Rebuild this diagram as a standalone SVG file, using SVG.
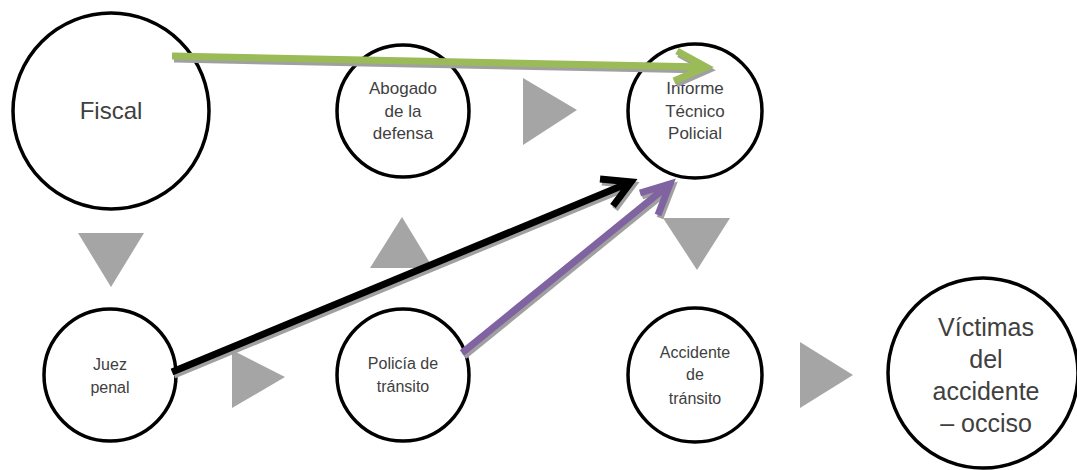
<svg xmlns="http://www.w3.org/2000/svg" width="1077" height="470" viewBox="0 0 1077 470">
<style>
.node circle{fill:#fff;stroke:#000;stroke-width:3.5}
.node text{font-family:"Liberation Sans",Arial,sans-serif;fill:#404040;text-anchor:middle}
.tri{fill:#a5a5a5}
.ln{fill:none;stroke-width:7;stroke-linecap:butt;stroke-linejoin:miter}
.sh{stroke:#a0a0a0}
</style>
<rect width="1077" height="470" fill="#fff"/>
<g id="flow-triangles">
<polygon class="tri" points="78,233 144,233 111,287"/>
<polygon class="tri" points="370,268 402,217 433,268"/>
<polygon class="tri" points="523,78 577,110 523,145"/>
<polygon class="tri" points="663,218 730,218 697,270"/>
<polygon class="tri" points="232,350 285,377 232,408"/>
<polygon class="tri" points="800,342 853,375 800,408"/>
</g>
<g id="n-fiscal" class="node"><circle cx="111" cy="111" r="98"/><text x="111" y="119" font-size="24">Fiscal</text></g>
<g id="n-abogado" class="node"><circle cx="403" cy="111" r="66"/><text font-size="17"><tspan x="403" y="94">Abogado</tspan><tspan x="403" y="117">de la</tspan><tspan x="403" y="139">defensa</tspan></text></g>
<g id="n-informe" class="node"><circle cx="695" cy="111" r="67"/><text font-size="17"><tspan x="695" y="94">Informe</tspan><tspan x="695" y="117">Técnico</tspan><tspan x="695" y="139">Policial</tspan></text></g>
<g id="n-juez" class="node"><circle cx="110" cy="375" r="66"/><text font-size="16"><tspan x="110" y="370">Juez</tspan><tspan x="110" y="393">penal</tspan></text></g>
<g id="n-policia" class="node"><circle cx="403" cy="375" r="66"/><text font-size="16"><tspan x="403" y="369">Policía de</tspan><tspan x="403" y="392">tránsito</tspan></text></g>
<g id="n-accidente" class="node"><circle cx="695" cy="375" r="67"/><text font-size="16"><tspan x="695" y="358">Accidente</tspan><tspan x="695" y="380">de</tspan><tspan x="695" y="404">tránsito</tspan></text></g>
<g id="n-victimas" class="node"><circle cx="983" cy="373" r="95"/><text font-size="25"><tspan x="986" y="336">Víctimas</tspan><tspan x="986" y="368">del</tspan><tspan x="986" y="400">accidente</tspan><tspan x="986" y="432">– occiso</tspan></text></g>
<g id="connectors">
<g transform="translate(2,3)" class="sh">
<path class="ln" d="M172,56 L706,67 M677,51 L706,67 L674,81"/>
<path class="ln" d="M172,372 L631,182 M600,179 L631,182 L613,206"/>
<path class="ln" d="M462,353 L670,184 M640,193 L670,184 L658,215"/>
</g>
<path class="ln" stroke="#9bbb59" d="M172,56 L706,67 M677,51 L706,67 L674,81"/>
<path class="ln" stroke="#000" d="M172,372 L631,182 M600,179 L631,182 L613,206"/>
<path class="ln" stroke="#8064a2" d="M462,353 L670,184 M640,193 L670,184 L658,215"/>
</g>
</svg>
